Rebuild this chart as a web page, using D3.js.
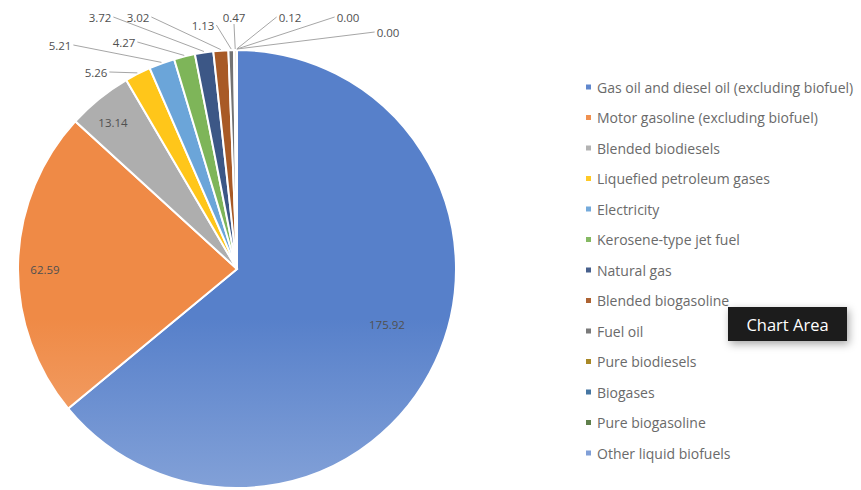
<!DOCTYPE html>
<html><head><meta charset="utf-8">
<script src="https://cdn.jsdelivr.net/npm/d3@7"></script>
<style>
html,body{margin:0;padding:0;background:#fff;}
svg{display:block;}
</style></head>
<body>
<svg id="chart" width="861" height="490"></svg>
<script>
// ---- data ----
const categories = [
  "Gas oil and diesel oil (excluding biofuel)",
  "Motor gasoline (excluding biofuel)",
  "Blended biodiesels",
  "Liquefied petroleum gases",
  "Electricity",
  "Kerosene-type jet fuel",
  "Natural gas",
  "Blended biogasoline",
  "Fuel oil",
  "Pure biodiesels",
  "Biogases",
  "Pure biogasoline",
  "Other liquid biofuels"
];
const values = [175.92, 62.59, 13.14, 5.26, 5.21, 4.27, 3.72, 3.02, 1.13, 0.47, 0.12, 0.00, 0.00];
const colors = ["#4472C4","#ED7D31","#A5A5A5","#FFC000","#5B9BD5","#70AD47","#264478","#9E480E","#636363","#997300","#255E91","#43682B","#698ED0"];
// label placement (layout only)
const labelPos = [
  {x:387, y:324, inside:true},
  {x:45,  y:269, inside:true},
  {x:113, y:122, inside:true},
  {x:96,  y:72},
  {x:60,  y:45},
  {x:124, y:42},
  {x:100, y:17},
  {x:138, y:17},
  {x:203, y:25},
  {x:234, y:17},
  {x:290, y:17},
  {x:348, y:17},
  {x:388, y:32}
];

// ---- layout ----
const svg = d3.select("#chart");
const cx = 237, cy = 269, R = 219;
const data = categories.map((c,i)=>({name:c, value:values[i], color:colors[i], i}));

function mix(c, t){ const a=d3.rgb(c); return d3.rgb(a.r+(255-a.r)*t, a.g+(255-a.g)*t, a.b+(255-a.b)*t).formatHex(); }

const defs = svg.append("defs");
data.forEach(d=>{
  const g = defs.append("linearGradient").attr("id","g"+d.i)
    .attr("gradientUnits","userSpaceOnUse")
    .attr("x1",0).attr("x2",0).attr("y1",cy-R).attr("y2",cy+R);
  g.append("stop").attr("offset",0).attr("stop-color",mix(d.color,0.10));
  g.append("stop").attr("offset",0.45).attr("stop-color",mix(d.color,0.37));
  g.append("stop").attr("offset",1).attr("stop-color",mix(d.color,0.44));
});

const pie = d3.pie().sort(null).value(d=>d.value);
const arcs = pie(data);
const arc = d3.arc().innerRadius(0).outerRadius(R);

const gPie = svg.append("g").attr("transform",`translate(${cx},${cy})`);
gPie.selectAll("path").data(arcs).enter().append("path")
  .attr("d",arc)
  .attr("fill",d=>`url(#g${d.data.i})`)
  .attr("stroke","#fff").attr("stroke-width",2);

// ---- labels ----
const gLab = svg.append("g");
arcs.forEach((a,i)=>{
  const p = labelPos[i];
  const t = gLab.append("text")
    .attr("x",p.x).attr("y",p.y)
    .attr("text-anchor","middle").attr("dominant-baseline","central")
    .attr("font-family","'Open Sans', sans-serif").attr("font-size",11.5)
    .attr("fill","#505050")
    .text(a.data.value.toFixed(2));
  if(p.inside) return;
  const w = t.node().getComputedTextLength();
  const mid = (a.startAngle + a.endAngle)/2;
  const px = cx + (R+1)*Math.sin(mid), py = cy - (R+1)*Math.cos(mid);
  let sx, sy;
  if (Math.abs(px - p.x) < w/2) { sx = p.x; sy = p.y + 7; }
  else if (px > p.x) { sx = p.x + w/2 + 2; sy = p.y; }
  else { sx = p.x - w/2 - 2; sy = p.y; }
  gLab.append("path")
    .attr("d", `M${sx},${sy}L${px},${py}`)
    .attr("stroke","#a6a6a6").attr("stroke-width",1).attr("fill","none");
});

// ---- legend ----
const legY = d3.scalePoint().domain(categories).range([87, 453]);
const gLeg = svg.append("g");
data.forEach(d=>{
  const y = legY(d.name);
  gLeg.append("rect").attr("x",586).attr("y",y-2.5).attr("width",5).attr("height",5).attr("fill",mix(d.color,0.15));
  gLeg.append("text").attr("x",597).attr("y",y)
    .attr("dominant-baseline","central")
    .attr("font-family","'Open Sans', sans-serif").attr("font-size",14)
    .attr("fill","#6a6a6a").text(d.name);
});

// ---- tooltip ----
const tip = svg.append("g");
const fdef = defs.append("filter").attr("id","sh").attr("x","-30%").attr("y","-50%").attr("width","160%").attr("height","220%");
fdef.append("feDropShadow").attr("dx",2).attr("dy",3).attr("stdDeviation",4).attr("flood-color","#000").attr("flood-opacity",0.35);
tip.append("rect").attr("x",728).attr("y",307).attr("width",119).attr("height",34)
  .attr("fill","#1f1f1f").attr("filter","url(#sh)");
tip.append("text").attr("x",787.5).attr("y",324).attr("text-anchor","middle").attr("dominant-baseline","central")
  .attr("font-family","'Open Sans', sans-serif").attr("font-size",16.5).attr("fill","#fff").text("Chart Area");
</script>
</body></html>
